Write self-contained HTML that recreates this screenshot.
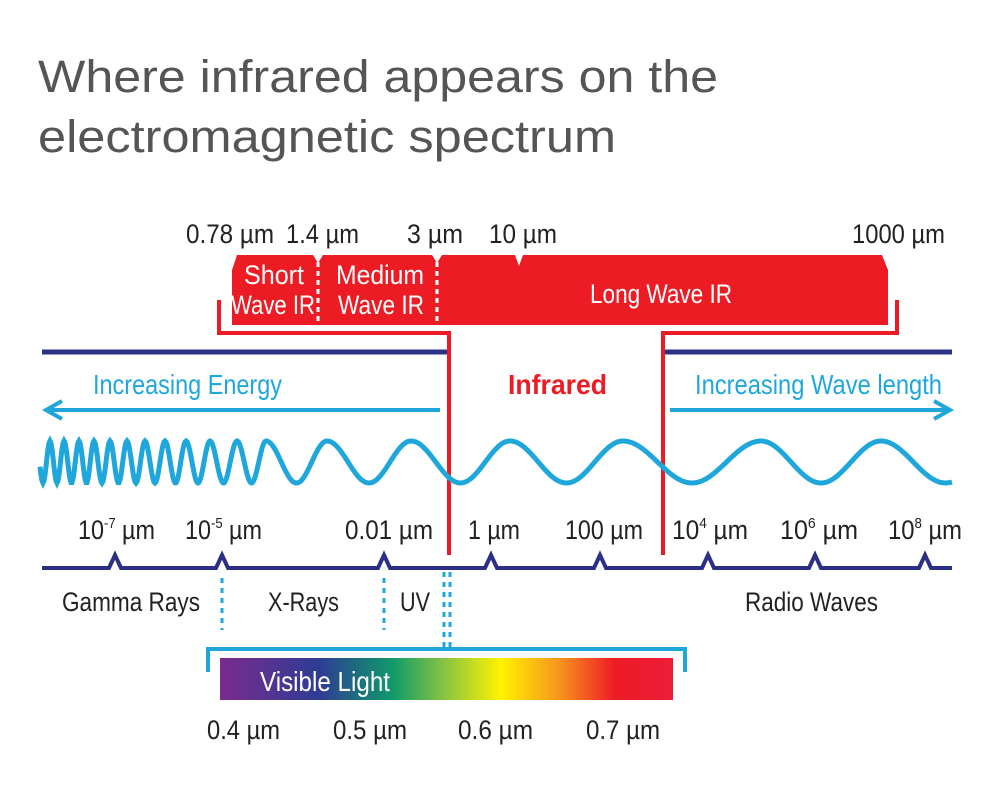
<!DOCTYPE html>
<html><head><meta charset="utf-8"><style>
html,body{margin:0;padding:0;background:#fff;}
svg{display:block;}
text{font-family:"Liberation Sans",sans-serif;}
</style></head><body>
<svg width="1000" height="802" viewBox="0 0 1000 802">
<defs>
<linearGradient id="rain" x1="0" x2="1" y1="0" y2="0">
<stop offset="0" stop-color="#7b2a8e"/><stop offset="0.22" stop-color="#2e3c95"/><stop offset="0.38" stop-color="#0f9a6a"/><stop offset="0.5" stop-color="#8cc63f"/><stop offset="0.62" stop-color="#fff200"/><stop offset="0.75" stop-color="#f7941d"/><stop offset="0.87" stop-color="#ed1c24"/><stop offset="1" stop-color="#ed1c3a"/>
</linearGradient>
</defs>
<g fill="#555" font-size="45">
<text x="38" y="92" textLength="680" lengthAdjust="spacingAndGlyphs">Where infrared appears on the</text>
<text x="38" y="152" textLength="578" lengthAdjust="spacingAndGlyphs">electromagnetic spectrum</text>
</g>
<g fill="#222" font-size="27">
<text x="186" y="243" textLength="88" lengthAdjust="spacingAndGlyphs">0.78 µm</text>
<text x="286" y="243" textLength="73" lengthAdjust="spacingAndGlyphs">1.4 µm</text>
<text x="407" y="243" textLength="56" lengthAdjust="spacingAndGlyphs">3 µm</text>
<text x="489" y="243" textLength="68" lengthAdjust="spacingAndGlyphs">10 µm</text>
<text x="852" y="243" textLength="93" lengthAdjust="spacingAndGlyphs">1000 µm</text>
</g>
<path fill="#ed1c24" d="M232,270 L237,255 L313,255 L318,263 L323,255 L432,255 L437,263 L442,255 L515,255 L519,266 L523,255 L882,255 L888,270 L888,325 L232,325 Z"/>
<g stroke="#fff" stroke-width="3" stroke-dasharray="5,4">
<line x1="318" y1="262" x2="318" y2="324"/><line x1="437" y1="262" x2="437" y2="324"/>
</g>
<g fill="#fff" font-size="27">
<text x="244" y="284" textLength="60" lengthAdjust="spacingAndGlyphs">Short</text>
<text x="231" y="314" textLength="84" lengthAdjust="spacingAndGlyphs">Wave IR</text>
<text x="336" y="284" textLength="88" lengthAdjust="spacingAndGlyphs">Medium</text>
<text x="338" y="314" textLength="86" lengthAdjust="spacingAndGlyphs">Wave IR</text>
<text x="590" y="303" textLength="142" lengthAdjust="spacingAndGlyphs">Long Wave IR</text>
</g>
<path fill="none" stroke="#ed1c24" stroke-width="4" d="M219,300 V333 H449 V555 M663,555 V333 H897 V300"/>
<g stroke="#2b2f86" stroke-width="5">
<line x1="42" y1="352" x2="447" y2="352"/><line x1="665" y1="352" x2="952" y2="352"/>
</g>
<text x="93" y="394" fill="#1fa7dc" font-size="28" textLength="189" lengthAdjust="spacingAndGlyphs">Increasing Energy</text>
<text x="508" y="394" fill="#ed1c24" font-size="28" font-weight="bold" textLength="99" lengthAdjust="spacingAndGlyphs">Infrared</text>
<text x="695" y="394" fill="#1fa7dc" font-size="28" textLength="247" lengthAdjust="spacingAndGlyphs">Increasing Wave length</text>
<g stroke="#1fa7dc" stroke-width="4" fill="none">
<line x1="48" y1="410" x2="440" y2="410"/><path d="M62,401 L46,410 L62,419"/>
<line x1="670" y1="410" x2="948" y2="410"/><path d="M934,401 L950,410 L934,419"/>
</g>
<path id="wave" fill="none" stroke="#1fa7dc" stroke-width="5"/>
<g fill="#222" font-size="27">
<text x="78" y="539" textLength="77" lengthAdjust="spacingAndGlyphs">10<tspan font-size="15" dy="-11">-7</tspan><tspan dy="11"> µm</tspan></text>
<text x="185" y="539" textLength="77" lengthAdjust="spacingAndGlyphs">10<tspan font-size="15" dy="-11">-5</tspan><tspan dy="11"> µm</tspan></text>
<text x="345" y="539" textLength="88" lengthAdjust="spacingAndGlyphs">0.01 µm</text>
<text x="468" y="539" textLength="52" lengthAdjust="spacingAndGlyphs">1 µm</text>
<text x="565" y="539" textLength="78" lengthAdjust="spacingAndGlyphs">100 µm</text>
<text x="672" y="539" textLength="76" lengthAdjust="spacingAndGlyphs">10<tspan font-size="15" dy="-11">4</tspan><tspan dy="11"> µm</tspan></text>
<text x="780" y="539" textLength="78" lengthAdjust="spacingAndGlyphs">10<tspan font-size="15" dy="-11">6</tspan><tspan dy="11"> µm</tspan></text>
<text x="888" y="539" textLength="74" lengthAdjust="spacingAndGlyphs">10<tspan font-size="15" dy="-11">8</tspan><tspan dy="11"> µm</tspan></text>
</g>
<path id="axis" fill="none" stroke="#2b2f86" stroke-width="4" stroke-linejoin="miter"/>
<g stroke="#1fa7dc" stroke-width="3" stroke-dasharray="5,5">
<line x1="222" y1="578" x2="222" y2="630"/><line x1="384" y1="578" x2="384" y2="630"/>
<line x1="444" y1="572" x2="444" y2="650"/><line x1="450" y1="572" x2="450" y2="650"/>
</g>
<g fill="#222" font-size="27">
<text x="62" y="611" textLength="138" lengthAdjust="spacingAndGlyphs">Gamma Rays</text>
<text x="268" y="611" textLength="71" lengthAdjust="spacingAndGlyphs">X-Rays</text>
<text x="400" y="611" textLength="30" lengthAdjust="spacingAndGlyphs">UV</text>
<text x="745" y="611" textLength="133" lengthAdjust="spacingAndGlyphs">Radio Waves</text>
</g>
<path fill="none" stroke="#1fa7dc" stroke-width="4" d="M208,672 V649 H685 V672"/>
<rect x="220" y="658" width="453" height="42" fill="url(#rain)"/>
<text x="260" y="691" fill="#fff" font-size="28" textLength="130" lengthAdjust="spacingAndGlyphs">Visible Light</text>
<g fill="#222" font-size="27">
<text x="207" y="739" textLength="73" lengthAdjust="spacingAndGlyphs">0.4 µm</text>
<text x="333" y="739" textLength="74" lengthAdjust="spacingAndGlyphs">0.5 µm</text>
<text x="458" y="739" textLength="75" lengthAdjust="spacingAndGlyphs">0.6 µm</text>
<text x="586" y="739" textLength="74" lengthAdjust="spacingAndGlyphs">0.7 µm</text>
</g>
</svg>
<script>
// wave crest positions (diagram geometry)
const crests=[36,50,64,79,94,110,127,145,165,186,210,237,266,327,411,510,623,761,881,1010];
let d='';const cy=462,A=21;
for(let x=40;x<=952;x+=1){
  let i=0;while(i<crests.length-2&&crests[i+1]<=x)i++;
  const f=(x-crests[i])/(crests[i+1]-crests[i]);
  const y=cy-A*Math.cos(2*Math.PI*f);
  d+=(x===40?'M':'L')+x+','+y.toFixed(1);
}
document.getElementById('wave').setAttribute('d',d);
const bumps=[115,222,384,491,600,708,815,925];
let a='M42,568';
bumps.forEach(b=>{a+=` L${b-6},568 L${b},555 L${b+6},568`;});
a+=' L952,568';
document.getElementById('axis').setAttribute('d',a);
</script>
</body></html>
